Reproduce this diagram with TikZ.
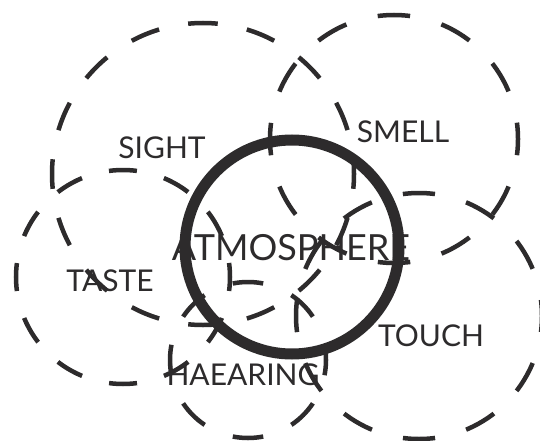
\documentclass[tikz,border=0pt]{standalone}
\usepackage{fontspec}
\setmainfont{Lato}
\usepackage{tikz}
\usepackage{xcolor}
\definecolor{charcoal}{RGB}{45, 43, 44}

\begin{document}
\begin{tikzpicture}[
  x=1pt, y=-1pt,
  sense/.style={draw=charcoal, line width=4.5pt,
                dash pattern=on #1 off #1, dash phase=#1/2},
  core/.style={draw=charcoal, line width=11pt},
  lbl/.style={text=charcoal, inner sep=0pt, font=\fontsize{30}{36}\selectfont},
  biglbl/.style={text=charcoal, inner sep=0pt, font=\fontsize{36}{42}\selectfont}
]
  \fill[white] (0,0) rectangle (540,441);
  \useasboundingbox (0,0) rectangle (540,441);

  % the five senses
  \draw[sense=29.65pt] (203,174) circle (151);
  \draw[sense=32.46pt] (394,139) circle (124);
  \draw[sense=28.01pt] (123,277) circle (107);
  \draw[sense=32.20pt] (419,316) circle (123);
  \draw[sense=30.63pt] (248,360) circle (78);

  % atmosphere ring
  \draw[core] (292,247) circle (107);

  \node[lbl]    (sight)  at (162,148) {SIGHT};
  \node[lbl]    (smell)  at (403,132) {SMELL};
  \node[lbl]    (taste)  at (110,281) {TASTE};
  \node[lbl]    (touch)  at (431,336) {TOUCH};
  \node[lbl]    (hear)   at (243,375) {HAEARING};
  \node[biglbl] (atmo)   at (291,248) {ATMOSPHERE};
\end{tikzpicture}
\end{document}
